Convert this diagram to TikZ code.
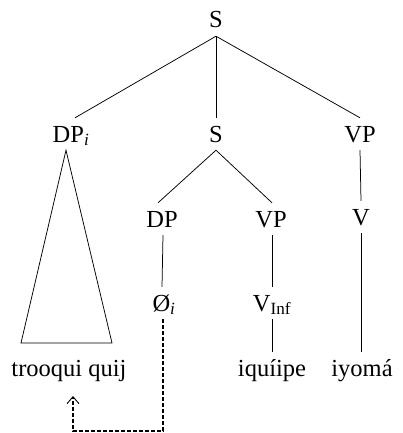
\documentclass[tikz,border=0pt]{standalone}
\usepackage{fontspec}
\setmainfont{Liberation Serif}
\usetikzlibrary{arrows.meta}
\begin{document}
\begin{tikzpicture}[x=1pt,y=-1pt,
  lab/.style={anchor=base,inner xsep=1pt,inner ysep=8pt,text height=16pt,text depth=0pt,font=\fontsize{24.5}{28}\selectfont},
  edge/.style={line width=0.75pt},
  trace/.style={line width=1.3pt,dash pattern=on 4pt off 2pt,-{Straight Barb[length=7pt,width=12pt,line width=0.9pt]}}]
\useasboundingbox (0,0) rectangle (402,433);
\node[lab] (S0) at (216,28) {S};
\node[lab] (DPi) at (71,142) {DP\textsubscript{\textit{i}}};
\node[lab] (S1) at (216,142) {S};
\node[lab] (VP1) at (360,142) {VP};
\node[lab] (DP2) at (162,227) {DP};
\node[lab] (VP2) at (271,227) {VP};
\node[lab] (V) at (361,225) {V};
\node[lab] (Z) at (164,311) {Ø\textsubscript{\textit{i}}};
\node[lab] (VInf) at (272,311) {V\textsubscript{Inf}};
\node[lab] (L1) at (69,376) {trooqui quij};
\node[lab] (L2) at (272,376) {iquíipe};
\node[lab] (L3) at (362,376) {iyomá};
\coordinate (TL) at (21,343);
\coordinate (TR) at (112,343);
\coordinate (C1) at (163,431);
\coordinate (C2) at (73,431);
\coordinate (C3) at (73,396);
\draw[edge] (S0.south) -- ([xshift=4pt]DPi.north);
\draw[edge] (S0.south) -- (S1.north);
\draw[edge] (S0.south) -- (VP1.north);
\draw[edge] (S1.south) -- ([xshift=-4pt]DP2.north);
\draw[edge] (S1.south) -- ([xshift=1pt]VP2.north);
\draw[edge] (VP1.south) -- (V.north);
\draw[edge] ([xshift=1pt]DP2.south) -- (DP2.south |- Z.north);
\draw[edge] ([xshift=1pt]VP2.south) -- ([xshift=1pt]VP2.south |- VInf.north);
\draw[edge] (VInf.south) -- (L2.north);
\draw[edge] (V.south) -- (V.south |- L3.north);
\draw[edge] ([xshift=-5pt]DPi.south) -- (TL) -- (TR) -- cycle;
\draw[trace] ([xshift=-1pt]Z.south) -- (C1) -- (C2) -- (C3);
\end{tikzpicture}
\end{document}
